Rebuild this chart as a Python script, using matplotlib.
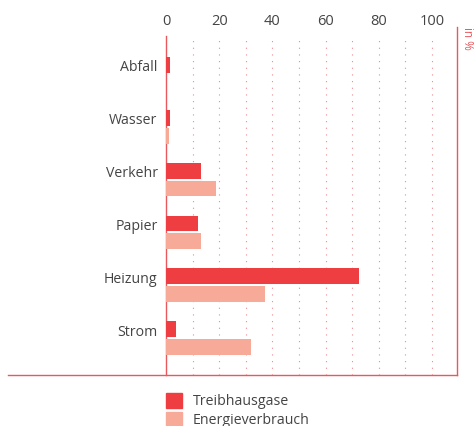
import numpy as np
import matplotlib.pyplot as plt
from matplotlib.lines import Line2D
from matplotlib.patches import Rectangle

categories = ['Abfall', 'Wasser', 'Verkehr', 'Papier', 'Heizung', 'Strom']
treibhausgase = [1.5, 1.5, 13.2, 12.0, 72.6, 3.8]
energieverbrauch = [0.0, 1.0, 18.8, 13.2, 37.2, 32.0]
xticks = [0, 20, 40, 60, 80, 100]

red = '#ef3e42'
pink = '#f7aa98'
line_red = '#e8585d'
text_col = '#444444'

plt.rcParams['font.family'] = ['Open Sans', 'DejaVu Sans']

fig = plt.figure(figsize=(4.76, 4.27), dpi=100)
ax = fig.add_axes([166 / 476, 1 - 376 / 427, 291 / 476, 339 / 427])

y = np.arange(len(categories))
ax.barh(y, treibhausgase, height=0.30, color=red, zorder=3)
ax.barh(y + 0.34, energieverbrauch, height=0.30, color=pink, zorder=3)

ax.set_xlim(0, 291 / 2.66)
ax.set_ylim(5.868, -0.547)

for gx in range(10, 101, 10):
    ax.axvline(gx, color='#f08a8c', linestyle=(0, (1, 5)), linewidth=0.8, zorder=1)

ax.xaxis.tick_top()
ax.set_xticks(xticks)
ax.set_xticklabels([str(t) for t in xticks])
ax.tick_params(axis='x', length=0, pad=6, labelsize=10.5, labelcolor=text_col)
ax.set_yticks(y)
ax.set_yticklabels(categories)
ax.tick_params(axis='y', length=0, pad=6, labelsize=10.2, labelcolor=text_col)

for side in ['top', 'right', 'bottom']:
    ax.spines[side].set_visible(False)
ax.spines['left'].set_color(line_red)
ax.spines['left'].set_linewidth(1)

# bottom base line and right frame line
fig.add_artist(Line2D([8 / 476, 457 / 476], [1 - 376 / 427, 1 - 376 / 427],
                      color=line_red, linewidth=1))
fig.add_artist(Line2D([457 / 476, 457 / 476], [1 - 28 / 427, 1 - 376 / 427],
                      color=line_red, linewidth=1))
fig.text(467 / 476, 1 - 27 / 427, 'in %', rotation=270, color=line_red,
         fontsize=8.5, ha='center', va='top')

# legend
for i, (lab, c) in enumerate([('Treibhausgase', red), ('Energieverbrauch', pink)]):
    top = 394 + i * 19
    fig.add_artist(Rectangle((166 / 476, 1 - (top + 15) / 427), 16 / 476, 15 / 427,
                             color=c, transform=fig.transFigure))
    fig.text(193 / 476, 1 - (top + 7.5) / 427, lab, color=text_col,
             fontsize=10.2, va='center', ha='left')

fig.savefig('out.png', dpi=100)
